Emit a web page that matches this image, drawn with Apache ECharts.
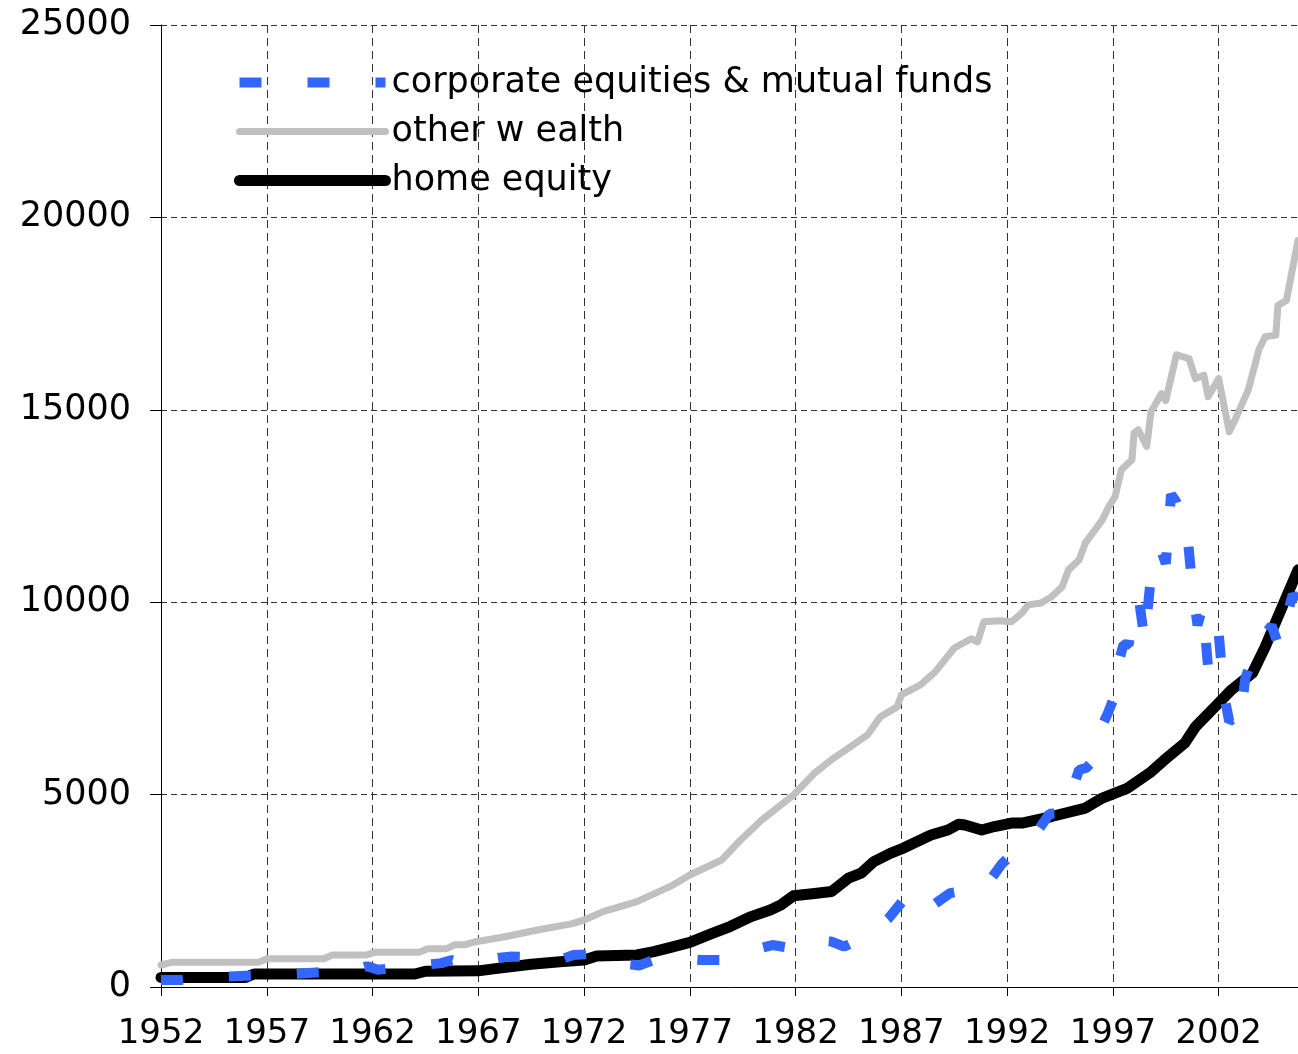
<!DOCTYPE html>
<html>
<head>
<meta charset="utf-8">
<script src="https://cdn.jsdelivr.net/npm/echarts@6/dist/echarts.min.js"></script>
<style>
  html, body { margin: 0; padding: 0; background: #fff; }
  #chart { width: 1298px; height: 1054px; }
</style>
</head>
<body>
<div id="chart"></div>
<script>
var START_YEAR = 1952;
var END_YEAR = 2005.75;
var seriesNames = ['corporate equities & mutual funds', 'other w ealth', 'home equity'];
var xTickLabels = ['1952', '1957', '1962', '1967', '1972', '1977', '1982', '1987', '1992', '1997', '2002'];

// [year, value]
var equities = [
  [1952, 180], [1953, 185], [1954, 230], [1955, 270], [1956, 290], [1957, 300], [1958, 330],
  [1959, 364], [1960, 400], [1961, 420], [1961.75, 540], [1962.25, 450], [1962.75, 480],
  [1963.5, 540], [1964.5, 580], [1965.25, 620], [1965.75, 700], [1966.25, 620], [1967, 680],
  [1968, 760], [1968.5, 790], [1969.2, 780], [1970, 680], [1970.5, 640], [1971.5, 830],
  [1972.5, 860], [1973.25, 760], [1974, 600], [1974.6, 560], [1975.2, 680], [1975.7, 702],
  [1976.5, 740], [1977.5, 700], [1978.5, 700], [1978.9, 720], [1979.5, 850], [1980.25, 1000],
  [1980.9, 1090], [1981.5, 1040], [1981.9, 960], [1982.5, 1080], [1983.25, 1200], [1983.7, 1180],
  [1984.3, 1050], [1984.8, 1180], [1985.5, 1400], [1986, 1600], [1986.4, 1790], [1987.1, 2260],
  [1987.75, 1850], [1988.3, 2050], [1989.3, 2440], [1989.75, 2480], [1990.25, 2390], [1990.75, 2550],
  [1991.2, 2780], [1991.75, 3200], [1992.1, 3380], [1992.9, 3770], [1993.5, 4100], [1994, 4500],
  [1994.7, 4520], [1995, 5000], [1995.4, 5640], [1995.75, 5700], [1996.2, 5950], [1996.5, 6800],
  [1996.75, 7100], [1997, 7450], [1997.25, 8400], [1997.5, 8900], [1997.75, 8900], [1998, 10000],
  [1998.25, 10000], [1998.5, 9000], [1998.75, 10400], [1999, 11000], [1999.25, 11400], [1999.5, 11000],
  [1999.75, 12800], [2000, 12600], [2000.25, 12200], [2000.5, 11900], [2000.75, 10400], [2001, 9400],
  [2001.25, 9900], [2001.5, 8300], [2001.75, 9200], [2002, 9200], [2002.25, 7600], [2002.5, 6900],
  [2002.75, 7000], [2003, 6800], [2003.25, 8000], [2003.5, 8400], [2003.75, 8900], [2004, 9100],
  [2004.25, 9200], [2004.5, 9400], [2004.75, 9000], [2005, 9800], [2005.25, 9700], [2005.5, 10200],
  [2005.75, 10050]
];

var otherWealth = [
  [1952, 572], [1952.5, 640], [1956.6, 640], [1957, 736], [1959.7, 736], [1960.1, 832],
  [1961.7, 832], [1962.1, 900], [1964.2, 900], [1964.6, 996], [1965.5, 996], [1965.9, 1100],
  [1966.4, 1100], [1966.8, 1170], [1968.2, 1300], [1969.8, 1480], [1971.4, 1640], [1972, 1740],
  [1972.9, 1960], [1974.5, 2220], [1976.1, 2620], [1977, 2910], [1978.5, 3300], [1979.4, 3820],
  [1980.4, 4340], [1981.3, 4730], [1981.9, 4990], [1982.9, 5560], [1983.8, 5950], [1984.5, 6210],
  [1985.4, 6550], [1986, 7020], [1986.8, 7280], [1987, 7590], [1987.9, 7850], [1988.6, 8190],
  [1989.5, 8810], [1990.3, 9050], [1990.6, 8970], [1990.9, 9490], [1991.6, 9520], [1992.2, 9490],
  [1992.7, 9720], [1993, 9930], [1993.6, 9980], [1994.1, 10140], [1994.6, 10400], [1994.9, 10840],
  [1995.4, 11100], [1995.7, 11540], [1996.5, 12140], [1996.8, 12480], [1997.1, 12740], [1997.4, 13440],
  [1997.9, 13700], [1998, 14400], [1998.2, 14480], [1998.6, 14050], [1998.8, 14950], [1999.3, 15420],
  [1999.5, 15240], [2000, 16430], [2000.6, 16330], [2000.9, 15810], [2001.3, 15900], [2001.5, 15340],
  [2002, 15810], [2002.5, 14430], [2002.8, 14770], [2003.4, 15520], [2003.9, 16560], [2004.2, 16900],
  [2004.7, 16940], [2004.8, 17710], [2005.2, 17840], [2005.75, 19400]
];

var homeEquity = [
  [1952, 250], [1956, 250], [1956.4, 338], [1964, 338], [1964.5, 410], [1967, 420], [1967.9, 485],
  [1969.5, 590], [1971, 660], [1972, 700], [1972.6, 806], [1974.5, 832], [1975.3, 918], [1976.1, 1030],
  [1977, 1160], [1978, 1380], [1978.9, 1570], [1979.9, 1830], [1980.8, 2000], [1981.3, 2130],
  [1981.9, 2370], [1982.9, 2430], [1983.7, 2480], [1984.5, 2830], [1985.1, 2960], [1985.7, 3260],
  [1986.5, 3480], [1987.1, 3610], [1987.6, 3740], [1988.4, 3950], [1989.2, 4080], [1989.7, 4230],
  [1990, 4210], [1990.8, 4080], [1991.4, 4170], [1992.2, 4260], [1992.7, 4260], [1994.1, 4430],
  [1995.7, 4650], [1996.5, 4910], [1997.7, 5170], [1998.8, 5590], [1999.6, 5980], [2000.4, 6340],
  [2000.9, 6760], [2002, 7380], [2002.6, 7720], [2003.6, 8160], [2004.2, 8840], [2004.8, 9620],
  [2005.75, 10840]
];

function shift(rows) {
  return rows.map(function (r) { return [r[0] - START_YEAR, r[1]]; });
}

var chartDom = document.getElementById('chart');
var chart = echarts.init(chartDom);

var font = 'DejaVu Sans';

var option = {
  animation: false,
  grid: { left: 161, right: 0, top: 25, bottom: 67, containLabel: false },
  legend: {
    data: seriesNames,
    orient: 'vertical',
    left: 229,
    top: 59,
    itemWidth: 146,
    itemHeight: 12,
    itemGap: 12,
    textStyle: { fontFamily: font, fontSize: 35, color: '#000', lineHeight: 37, padding: [0, 0, 0, 1] },
    itemStyle: { opacity: 0, borderWidth: 0 },
    lineStyle: { width: 'inherit', type: 'inherit', cap: 'inherit' }
  },
  xAxis: {
    type: 'value',
    min: 0,
    max: END_YEAR - START_YEAR,
    interval: 5,
    axisLine: { show: true, lineStyle: { color: '#000', width: 1 } },
    axisTick: { show: true, length: 9, lineStyle: { color: '#000' } },
    axisLabel: {
      showMaxLabel: false,
      margin: 30,
      fontFamily: font,
      fontSize: 34,
      color: '#000',
      formatter: function (v) { return xTickLabels[Math.round(v / 5)] || ''; }
    },
    splitLine: {
      show: true,
      showMinLine: false,
      showMaxLine: false,
      lineStyle: { color: '#333', type: [8, 5], width: 1 }
    }
  },
  yAxis: {
    type: 'value',
    min: 0,
    max: 25000,
    interval: 5000,
    axisLine: { show: true, lineStyle: { color: '#000', width: 1 } },
    axisTick: { show: true, length: 11, lineStyle: { color: '#000' } },
    axisLabel: {
      margin: 30,
      fontFamily: font,
      fontSize: 35,
      color: '#000',
      formatter: function (v) { return String(v); }
    },
    splitLine: {
      show: true,
      showMinLine: false,
      lineStyle: { color: '#333', type: [6, 4], width: 1 }
    }
  },
  series: [
    {
      name: 'home equity',
      type: 'line',
      symbol: 'none',
      data: shift(homeEquity),
      lineStyle: { color: '#000', width: 11, cap: 'round', join: 'round' },
      itemStyle: { color: '#000' }
    },
    {
      name: 'other w ealth',
      type: 'line',
      symbol: 'none',
      data: shift(otherWealth),
      lineStyle: { color: '#c0c0c0', width: 7, cap: 'round', join: 'round' },
      itemStyle: { color: '#c0c0c0' }
    },
    {
      name: 'corporate equities & mutual funds',
      type: 'line',
      symbol: 'none',
      data: shift(equities),
      lineStyle: { color: '#3366ff', width: 10, type: [22, 46], cap: 'butt', join: 'bevel' },
      itemStyle: { color: '#3366ff' }
    }
  ]
};

chart.setOption(option);

window.addEventListener('resize', function () {
  chart.resize();
});
</script>
</body>
</html>
